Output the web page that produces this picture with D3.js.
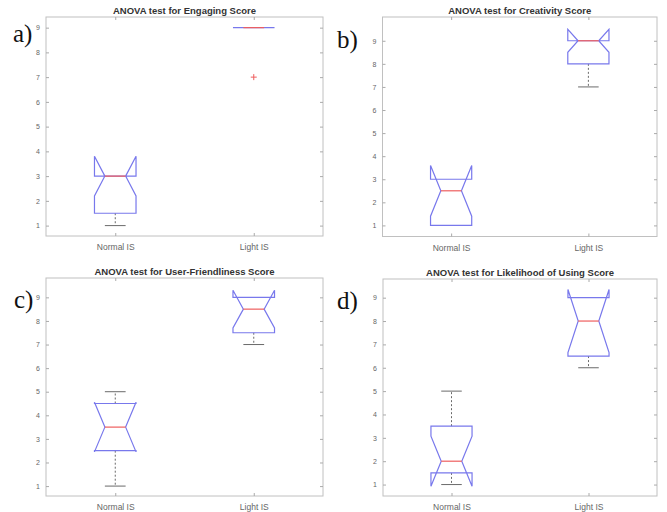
<!DOCTYPE html>
<html>
<head>
<meta charset="utf-8">
<script src="https://cdn.jsdelivr.net/npm/d3@7"></script>
<style>
  body { margin: 0; background: #fff; }
  svg { display: block; }
</style>
</head>
<body>
<div id="chart"></div>
<script>
// data
var groups = ["Normal IS", "Light IS"];
var titles = [
    "ANOVA test for Engaging Score",
    "ANOVA test for Creativity Score",
    "ANOVA test for User-Friendliness Score",
    "ANOVA test for Likelihood of Using Score"
];
var panelLabels = ["a)", "b)", "c)", "d)"];
var yTicks = [1, 2, 3, 4, 5, 6, 7, 8, 9];
var yLimits = [[0.58, 9.43], [0.52, 10.03], [0.58, 9.82], [0.51, 9.8]];

// per panel: [Normal IS, Light IS]
var q1 = [[1.5, 9], [1, 8], [2.5, 7.5], [1.5, 6.5]];
var medians = [[3, 9], [2.5, 9], [3.5, 8.5], [2, 8]];
var q3 = [[3, 9], [3, 9], [4.5, 9], [3.5, 9]];
var notchLo = [[2.2, 9], [1.4, 8.5], [2.45, 7.7], [0.93, 6.65]];
var notchHi = [[3.8, 9], [3.6, 9.5], [4.55, 9.3], [3.07, 9.35]];
var whiskerLo = [[1, 9], [1, 7], [1, 7], [1, 6]];
var whiskerHi = [[3, 9], [3, 9], [5, 9], [5, 9]];
var outliers = [[[], [7]], [[], []], [[], []], [[], []]];

// layout of the four axes
var panels = [
    { left: 46, right: 323, top: 17, bottom: 236, lx: 13, ly: 42 },
    { left: 382.5, right: 657, top: 17, bottom: 236.5, lx: 337, ly: 48 },
    { left: 46, right: 323, top: 278, bottom: 496, lx: 14, ly: 308 },
    { left: 383, right: 657, top: 279, bottom: 496, lx: 337, ly: 309 }
];

var boxColor = "#7878ec",
    medColor = "#ee5e5e",
    whiskColor = "#6a6a6a",
    axisColor = "#c0c0c0";

var svg = d3.select("#chart").append("svg")
    .attr("width", 667)
    .attr("height", 512);

panels.forEach(function (p, i) {
    var x = d3.scaleLinear().domain([0.5, 2.5]).range([p.left, p.right]);
    var y = d3.scaleLinear().domain(yLimits[i]).range([p.bottom, p.top]);
    var g = svg.append("g");
    var hw = 0.15; // box half width in x units

    // axes frame
    g.append("rect")
        .attr("x", p.left).attr("y", p.top)
        .attr("width", p.right - p.left).attr("height", p.bottom - p.top)
        .style("fill", "none").style("stroke", axisColor).style("stroke-width", "1px");

    // ticks point inward on all four sides
    var yl = g.append("g").attr("transform", "translate(" + p.left + ",0)")
        .call(d3.axisLeft(y).tickValues(yTicks).tickSizeInner(-3).tickSizeOuter(0).tickPadding(6));
    var yr = g.append("g").attr("transform", "translate(" + p.right + ",0)")
        .call(d3.axisRight(y).tickValues(yTicks).tickSizeInner(-3).tickSizeOuter(0).tickFormat(""));
    var xb = g.append("g").attr("transform", "translate(0," + p.bottom + ")")
        .call(d3.axisBottom(x).tickValues([1, 2]).tickSizeInner(-3).tickSizeOuter(0).tickPadding(8)
            .tickFormat(function (d) { return groups[d - 1]; }));
    var xt = g.append("g").attr("transform", "translate(0," + p.top + ")")
        .call(d3.axisTop(x).tickValues([1, 2]).tickSizeInner(-3).tickSizeOuter(0).tickFormat(""));

    [yl, yr, xb, xt].forEach(function (a) {
        a.select(".domain").remove();
        a.selectAll("line").style("stroke", "#aaa");
        a.selectAll("text").style("fill", "#666").style("font-family", "Liberation Sans, Arial, sans-serif");
    });
    yl.selectAll("text").style("font-size", "7px");
    xb.selectAll("text").style("font-size", "8.5px");

    // title
    g.append("text")
        .attr("x", (p.left + p.right) / 2)
        .attr("y", p.top - 3)
        .attr("text-anchor", "middle")
        .style("font-family", "Liberation Sans, Arial, sans-serif")
        .style("font-weight", "bold")
        .style("font-size", "9.5px")
        .style("fill", "#333")
        .text(titles[i]);

    // panel label
    svg.append("text")
        .attr("x", p.lx).attr("y", p.ly)
        .style("font-family", "Liberation Serif, Times New Roman, serif")
        .style("font-size", "25px")
        .style("fill", "#111")
        .text(panelLabels[i]);

    groups.forEach(function (name, j) {
        var c = j + 1;
        var L = x(c - hw), R = x(c + hw), nL = x(c - hw / 2), nR = x(c + hw / 2);

        // whiskers (dashed) with solid caps
        if (whiskerHi[i][j] > q3[i][j]) {
            g.append("line")
                .attr("x1", x(c)).attr("x2", x(c))
                .attr("y1", y(q3[i][j])).attr("y2", y(whiskerHi[i][j]))
                .style("stroke", whiskColor).style("stroke-dasharray", "2,2").style("stroke-width", "1px");
            g.append("line")
                .attr("x1", nL).attr("x2", nR)
                .attr("y1", y(whiskerHi[i][j])).attr("y2", y(whiskerHi[i][j]))
                .style("stroke", whiskColor).style("stroke-width", "1px");
        }
        if (whiskerLo[i][j] < q1[i][j]) {
            g.append("line")
                .attr("x1", x(c)).attr("x2", x(c))
                .attr("y1", y(q1[i][j])).attr("y2", y(whiskerLo[i][j]))
                .style("stroke", whiskColor).style("stroke-dasharray", "2,2").style("stroke-width", "1px");
            g.append("line")
                .attr("x1", nL).attr("x2", nR)
                .attr("y1", y(whiskerLo[i][j])).attr("y2", y(whiskerLo[i][j]))
                .style("stroke", whiskColor).style("stroke-width", "1px");
        }

        // notched box outline
        var pts = [
            [L, y(q1[i][j])], [L, y(notchLo[i][j])], [nL, y(medians[i][j])],
            [L, y(notchHi[i][j])], [L, y(q3[i][j])], [R, y(q3[i][j])],
            [R, y(notchHi[i][j])], [nR, y(medians[i][j])], [R, y(notchLo[i][j])],
            [R, y(q1[i][j])]
        ];
        g.append("path")
            .attr("d", d3.line()(pts) + "Z")
            .style("fill", "none").style("stroke", boxColor).style("stroke-width", "1.2px");

        // median
        g.append("line")
            .attr("x1", nL).attr("x2", nR)
            .attr("y1", y(medians[i][j])).attr("y2", y(medians[i][j]))
            .style("stroke", medColor).style("stroke-width", "1.2px");

        // outliers
        outliers[i][j].forEach(function (v) {
            g.append("path")
                .attr("d", "M" + (x(c) - 3) + "," + y(v) + "h6M" + x(c) + "," + (y(v) - 3) + "v6")
                .style("stroke", medColor).style("stroke-width", "1px");
        });
    });
});
</script>
</body>
</html>
